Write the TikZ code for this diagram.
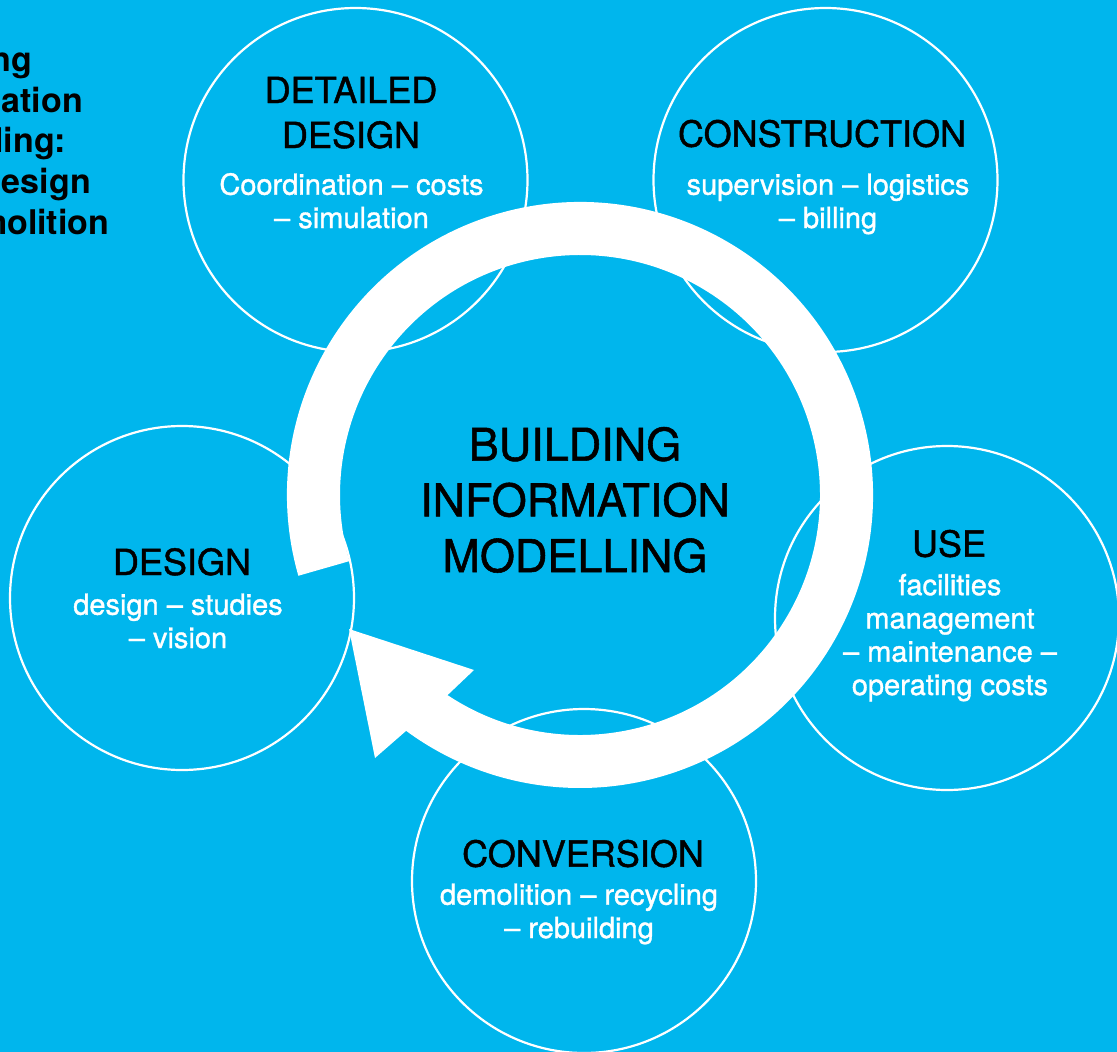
\documentclass[tikz,border=0pt]{standalone}
\usepackage{fontspec}
\setmainfont{TeX Gyre Heros}
\newfontfamily\midweight{TeX Gyre Heros}[FakeBold=1.2]
\usepackage{tikz}
\usepackage{xcolor}
\usetikzlibrary{calc}
\definecolor{bimblue}{RGB}{0,182,237}
\tikzset{stage/.style={circle,draw=white,line width=2.2pt,minimum size=344pt,inner sep=0pt}}
\tikzset{phase/.style={text=black,align=center,anchor=base,inner sep=0pt,font=\midweight\fontsize{36}{45}\selectfont}}
\tikzset{tasks/.style={text=white,align=center,anchor=base,inner sep=0pt,font=\midweight\fontsize{29}{33.3}\selectfont}}

\begin{document}
\begin{tikzpicture}[x=1pt,y=-1pt]
            % draw the background
            \fill[bimblue] (0,0) rectangle (1117,1052);
            \useasboundingbox (0,0) rectangle (1117,1052);
            \clip (0,0) rectangle (1117,1052);
            % title, cut by the left edge (base = last line)
            \node[anchor=base west,align=left,inner sep=0pt,font=\bfseries\fontsize{34}{40.6}\selectfont] (title) at (-104,234) {Building\\Information\\Modelling:\\from design\\to demolition};
            % draw the stages
            \node[stage] (detailed) at (355.5,180) {};
            \node[stage] (construction) at (825.5,180) {};
            \node[stage] (design) at (182,598) {};
            \node[stage] (use) at (947,618) {};
            \node[stage] (conversion) at (584,881) {};
            % draw the cycle arrow
            \coordinate (hub) at (580,495);
            \coordinate (tip) at (349,629);
            \fill[white] ($(hub)+(164:293)$) arc[start angle=164,end angle=486.4,radius=293]
                -- (375,758) -- (tip) -- (474,670)
                -- ($(hub)+(483.5:240)$) arc[start angle=483.5,end angle=164,radius=240] -- cycle;
            % labels
            \node[text=black,align=center,anchor=base,inner sep=0pt,font=\midweight\fontsize{45}{55.7}\selectfont] (bim) at (575,572) {BUILDING\\INFORMATION\\MODELLING};
            \node[phase] (detailedhead) at (351,148) {DETAILED\\DESIGN};
            \node[tasks] (detailedtext) at (351.5,228) {Coordination – costs\\– simulation};
            \node[phase] (constructionhead) at (822,146.7) {CONSTRUCTION};
            \node[tasks] (constructiontext) at (828,228) {supervision – logistics\\– billing};
            \node[phase] (designhead) at (182,575) {DESIGN};
            \node[tasks] (designtext) at (178,648) {design – studies\\– vision};
            \node[phase] (usehead) at (949,556.7) {USE};
            \node[tasks] (usetext) at (950,695) {facilities\\management\\– maintenance –\\operating costs};
            \node[phase] (conversionhead) at (583,866.7) {CONVERSION};
            \node[tasks] (conversiontext) at (579,938) {demolition – recycling\\– rebuilding};
\end{tikzpicture}
\end{document}
